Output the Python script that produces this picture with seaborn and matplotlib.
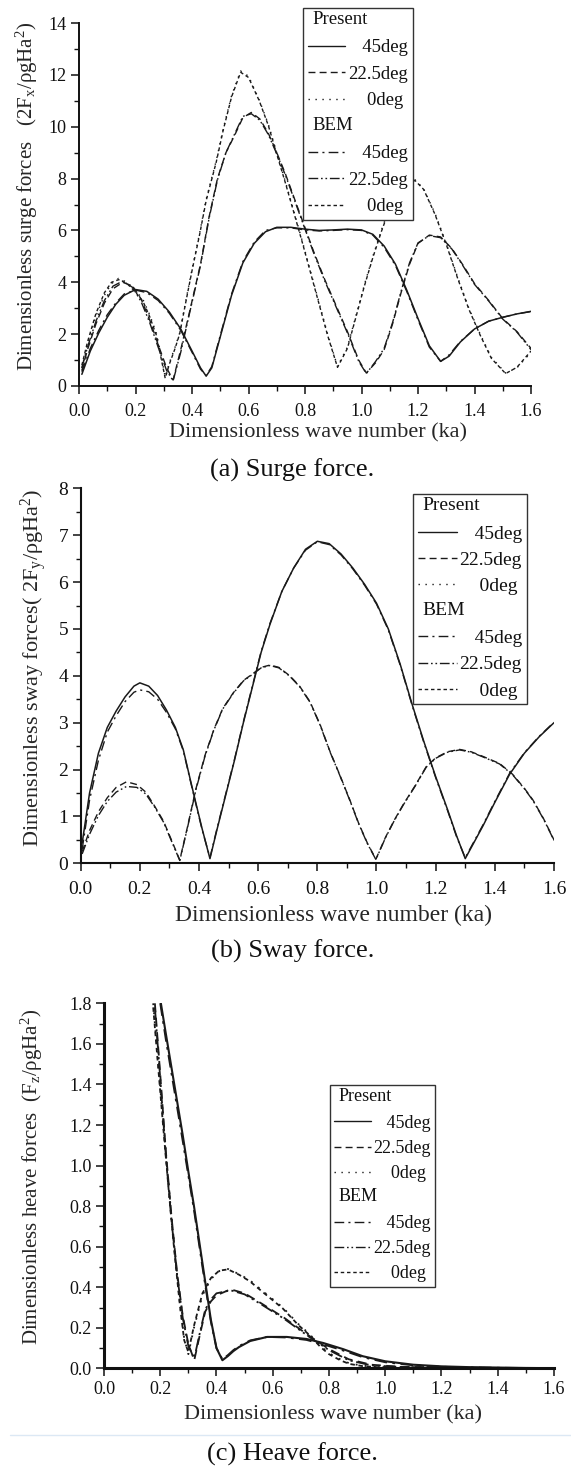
import numpy as np
import pandas as pd
import matplotlib
matplotlib.use("Agg")
import matplotlib.pyplot as plt
import matplotlib.text as mtext
from matplotlib.lines import Line2D
from matplotlib.legend_handler import HandlerBase
from matplotlib.ticker import MultipleLocator, FormatStrFormatter
import seaborn as sns

# ---------------- data: (a) surge ----------------
ka_a45 = [0.01, 0.04, 0.07, 0.10, 0.13, 0.16, 0.20, 0.24, 0.28, 0.32, 0.36, 0.40, 0.43, 0.45, 0.47,
          0.50, 0.54, 0.58, 0.62, 0.66, 0.70, 0.75, 0.80, 0.85, 0.90, 0.95, 1.00, 1.04, 1.08, 1.12,
          1.16, 1.20, 1.24, 1.28, 1.31, 1.35, 1.40, 1.45, 1.50, 1.55, 1.60]
surge_p45 = [0.45, 1.35, 2.05, 2.65, 3.15, 3.50, 3.72, 3.65, 3.35, 2.85, 2.20, 1.35, 0.70, 0.38, 0.70,
             1.90, 3.50, 4.75, 5.50, 5.95, 6.12, 6.12, 6.05, 6.00, 6.02, 6.05, 6.02, 5.85, 5.40, 4.70,
             3.70, 2.60, 1.55, 0.95, 1.15, 1.70, 2.20, 2.50, 2.65, 2.78, 2.88]
surge_b45 = [0.55, 1.45, 2.15, 2.75, 3.20, 3.55, 3.70, 3.60, 3.30, 2.80, 2.15, 1.30, 0.65, 0.40, 0.75,
             1.95, 3.55, 4.80, 5.55, 6.00, 6.10, 6.10, 6.02, 5.98, 6.00, 6.03, 6.00, 5.82, 5.35, 4.65,
             3.65, 2.55, 1.50, 0.95, 1.20, 1.72, 2.20, 2.50, 2.65, 2.78, 2.87]

ka_a22 = [0.01, 0.03, 0.06, 0.09, 0.12, 0.155, 0.19, 0.22, 0.25, 0.28, 0.31, 0.333, 0.36, 0.39, 0.43,
          0.46, 0.49, 0.52, 0.55, 0.58, 0.61, 0.64, 0.67, 0.70, 0.73, 0.76, 0.79, 0.83, 0.87, 0.91,
          0.95, 0.99, 1.017, 1.05, 1.08, 1.11, 1.14, 1.17, 1.20, 1.24, 1.28, 1.32, 1.36, 1.40, 1.45,
          1.50, 1.55, 1.60]
surge_p22 = [0.60, 1.40, 2.40, 3.20, 3.75, 4.00, 3.85, 3.35, 2.55, 1.60, 0.70, 0.23, 1.40, 2.80, 4.70,
             6.50, 8.00, 9.00, 9.65, 10.35, 10.55, 10.30, 9.75, 9.00, 8.20, 7.30, 6.40, 5.20, 4.10, 3.10,
             2.10, 1.00, 0.50, 0.90, 1.40, 2.40, 3.60, 4.70, 5.50, 5.82, 5.75, 5.30, 4.65, 3.95, 3.30,
             2.60, 2.10, 1.45]
surge_b22 = [0.70, 1.50, 2.50, 3.30, 3.85, 4.05, 3.80, 3.25, 2.45, 1.50, 0.60, 0.20, 1.30, 2.75, 4.65,
             6.45, 7.95, 9.00, 9.70, 10.40, 10.50, 10.25, 9.70, 8.95, 8.15, 7.25, 6.35, 5.15, 4.05, 3.05,
             2.05, 0.95, 0.48, 0.95, 1.45, 2.45, 3.65, 4.75, 5.52, 5.80, 5.72, 5.28, 4.62, 3.92, 3.28,
             2.58, 2.08, 1.40]

ka_a0 = [0.01, 0.03, 0.06, 0.09, 0.115, 0.14, 0.17, 0.20, 0.227, 0.25, 0.274, 0.29, 0.305, 0.32, 0.34,
         0.356, 0.38, 0.40, 0.427, 0.45, 0.486, 0.51, 0.54, 0.572, 0.60, 0.638, 0.67, 0.697, 0.73,
         0.756, 0.79, 0.82, 0.85, 0.88, 0.915, 0.95, 0.98, 1.01, 1.04, 1.07, 1.10, 1.13, 1.16, 1.19,
         1.22, 1.26, 1.30, 1.34, 1.38, 1.42, 1.46, 1.51, 1.55, 1.60]
surge_p0 = [0.70, 1.60, 2.70, 3.50, 3.95, 4.15, 4.00, 3.70, 3.32, 2.75, 2.03, 1.20, 0.35, 0.90, 1.50,
            2.03, 3.40, 4.50, 5.90, 7.20, 8.70, 9.90, 11.20, 12.15, 11.95, 11.03, 10.10, 9.10, 7.90,
            6.91, 5.60, 4.40, 3.20, 2.00, 0.75, 1.50, 2.70, 3.90, 5.00, 6.00, 6.90, 7.55, 7.90, 7.95,
            7.60, 6.66, 5.50, 4.20, 3.00, 2.00, 1.10, 0.50, 0.70, 1.30]
surge_b0 = [0.80, 1.70, 2.80, 3.60, 4.00, 4.10, 3.95, 3.62, 3.25, 2.68, 1.95, 1.10, 0.30, 0.85, 1.45,
            2.00, 3.35, 4.45, 5.85, 7.15, 8.65, 9.85, 11.15, 12.10, 11.90, 11.00, 10.05, 9.05, 7.85,
            6.86, 5.55, 4.35, 3.15, 1.95, 0.72, 1.45, 2.65, 3.85, 4.95, 5.95, 6.85, 7.50, 7.85, 7.92,
            7.58, 6.62, 5.46, 4.16, 2.96, 1.96, 1.06, 0.48, 0.72, 1.35]

# ---------------- data: (b) sway ----------------
ka_b45 = [0.005, 0.03, 0.06, 0.09, 0.12, 0.15, 0.18, 0.20, 0.23, 0.26, 0.29, 0.32, 0.347, 0.37, 0.39,
          0.41, 0.437, 0.46, 0.49, 0.52, 0.55, 0.58, 0.61, 0.64, 0.68, 0.72, 0.76, 0.80, 0.84, 0.88,
          0.92, 0.96, 1.00, 1.04, 1.08, 1.12, 1.16, 1.20, 1.24, 1.27, 1.30, 1.33, 1.36, 1.40, 1.45,
          1.50, 1.55, 1.60]
sway_p45 = [0.43, 1.50, 2.35, 2.90, 3.25, 3.55, 3.78, 3.85, 3.78, 3.58, 3.27, 2.90, 2.42, 1.80, 1.27,
            0.75, 0.10, 0.70, 1.45, 2.20, 3.00, 3.75, 4.50, 5.10, 5.80, 6.30, 6.70, 6.87, 6.82, 6.60,
            6.30, 5.95, 5.55, 5.00, 4.25, 3.40, 2.60, 1.85, 1.15, 0.60, 0.10, 0.45, 0.80, 1.30, 1.90,
            2.35, 2.70, 3.00]
sway_b45 = [0.30, 1.35, 2.20, 2.80, 3.15, 3.45, 3.65, 3.70, 3.66, 3.50, 3.22, 2.87, 2.40, 1.78, 1.25,
            0.73, 0.12, 0.72, 1.47, 2.22, 3.02, 3.77, 4.52, 5.12, 5.80, 6.30, 6.68, 6.86, 6.80, 6.58,
            6.28, 5.93, 5.53, 4.98, 4.23, 3.38, 2.58, 1.83, 1.13, 0.58, 0.12, 0.47, 0.82, 1.32, 1.92,
            2.36, 2.71, 3.01]
sway_p0 = [0.0, 0.0]
ka_b0 = [0.0, 1.6]

ka_b22 = [0.005, 0.03, 0.06, 0.09, 0.12, 0.155, 0.19, 0.22, 0.25, 0.28, 0.31, 0.335, 0.36, 0.39, 0.42,
          0.45, 0.48, 0.515, 0.55, 0.583, 0.61, 0.64, 0.67, 0.707, 0.74, 0.775, 0.81, 0.842, 0.875,
          0.91, 0.94, 0.97, 0.998, 1.03, 1.06, 1.09, 1.13, 1.168, 1.20, 1.24, 1.281, 1.32, 1.36, 1.416,
          1.46, 1.50, 1.529, 1.565, 1.60]
sway_p22 = [0.25, 0.70, 1.10, 1.40, 1.62, 1.74, 1.68, 1.52, 1.22, 0.90, 0.45, 0.07, 0.75, 1.60, 2.30,
            2.85, 3.30, 3.63, 3.90, 4.05, 4.18, 4.23, 4.18, 4.00, 3.78, 3.45, 2.95, 2.40, 1.90, 1.35,
            0.85, 0.42, 0.09, 0.55, 0.92, 1.25, 1.65, 2.06, 2.25, 2.38, 2.43, 2.38, 2.28, 2.13, 1.90,
            1.60, 1.35, 0.95, 0.50]
sway_b22 = [0.20, 0.62, 1.02, 1.32, 1.52, 1.64, 1.62, 1.48, 1.20, 0.88, 0.43, 0.06, 0.73, 1.58, 2.28,
            2.84, 3.29, 3.62, 3.89, 4.04, 4.17, 4.22, 4.17, 3.99, 3.77, 3.44, 2.94, 2.39, 1.89, 1.34,
            0.84, 0.41, 0.08, 0.54, 0.91, 1.24, 1.64, 2.05, 2.24, 2.37, 2.42, 2.37, 2.27, 2.12, 1.89,
            1.59, 1.34, 0.94, 0.49]

# ---------------- data: (c) heave ----------------
ka_c45 = [0.200, 0.22, 0.25, 0.28, 0.30, 0.32, 0.35, 0.38, 0.40, 0.421, 0.44, 0.46, 0.48, 0.52, 0.58,
          0.65, 0.72, 0.78, 0.85, 0.92, 1.00, 1.10, 1.20, 1.30, 1.40, 1.50, 1.60]
heave_p45 = [1.82, 1.65, 1.40, 1.15, 0.97, 0.80, 0.52, 0.24, 0.10, 0.04, 0.06, 0.085, 0.105, 0.135,
             0.155, 0.155, 0.145, 0.125, 0.095, 0.060, 0.035, 0.018, 0.010, 0.006, 0.004, 0.002, 0.001]
heave_b45 = [1.80, 1.62, 1.37, 1.12, 0.95, 0.78, 0.50, 0.23, 0.10, 0.045, 0.065, 0.09, 0.11, 0.138,
             0.155, 0.152, 0.140, 0.118, 0.088, 0.055, 0.030, 0.015, 0.008, 0.005, 0.003, 0.002, 0.001]

ka_c22 = [0.181, 0.20, 0.22, 0.24, 0.26, 0.28, 0.30, 0.321, 0.34, 0.36, 0.38, 0.40, 0.45, 0.50, 0.56,
          0.64, 0.73, 0.80, 0.87, 0.95, 1.05, 1.20, 1.40, 1.60]
heave_p22 = [1.80, 1.45, 1.07, 0.75, 0.47, 0.26, 0.12, 0.04, 0.16, 0.28, 0.33, 0.36, 0.39, 0.37, 0.32,
             0.25, 0.16, 0.095, 0.045, 0.018, 0.008, 0.004, 0.002, 0.001]
heave_b22 = [1.78, 1.43, 1.05, 0.73, 0.46, 0.25, 0.11, 0.05, 0.17, 0.29, 0.34, 0.37, 0.385, 0.365,
             0.315, 0.245, 0.155, 0.09, 0.04, 0.015, 0.007, 0.004, 0.002, 0.001]

ka_c0 = [0.175, 0.19, 0.21, 0.23, 0.25, 0.27, 0.285, 0.30, 0.32, 0.35, 0.38, 0.41, 0.441, 0.48, 0.518,
         0.57, 0.636, 0.69, 0.73, 0.77, 0.80, 0.84, 0.872, 0.92, 0.98, 1.05, 1.20, 1.40, 1.60]
heave_p0 = [1.80, 1.55, 1.22, 0.90, 0.60, 0.32, 0.15, 0.07, 0.20, 0.36, 0.44, 0.48, 0.49, 0.465, 0.435,
            0.375, 0.30, 0.22, 0.17, 0.11, 0.075, 0.045, 0.025, 0.013, 0.006, 0.004, 0.002, 0.001, 0.0]
heave_b0 = [1.78, 1.53, 1.20, 0.88, 0.58, 0.31, 0.14, 0.08, 0.21, 0.37, 0.445, 0.482, 0.488, 0.462,
            0.43, 0.37, 0.295, 0.215, 0.165, 0.105, 0.07, 0.04, 0.022, 0.011, 0.005, 0.003, 0.002,
            0.001, 0.0]

legend_labels = ["   45deg", "22.5deg", "    0deg"]

# ---------------- style ----------------
sns.set_theme(style="ticks")
plt.rcParams["font.family"] = ["Liberation Serif", "DejaVu Serif"]
plt.rcParams["mathtext.fontset"] = "custom"
plt.rcParams["mathtext.rm"] = "Liberation Serif"
plt.rcParams["mathtext.it"] = "Liberation Serif:italic"
plt.rcParams["axes.unicode_minus"] = False

LC = "#1a1a1a"
STY = {
    "p45": "-",
    "p22": (0, (5, 3)),
    "p0": (0, (1, 4)),
    "b45": (0, (7, 3, 1.5, 3)),
    "b22": (0, (7, 2, 1.2, 2, 1.2, 2)),
    "b0": (0, (2.5, 2)),
}


class Header:
    def __init__(self, text):
        self.text = text


class HeaderHandler(HandlerBase):
    def create_artists(self, legend, orig_handle, xdescent, ydescent, width, height, fontsize, trans):
        t = mtext.Text(-xdescent + 0.25 * fontsize, -ydescent + height / 2, orig_handle.text,
                       fontsize=fontsize, va="center", ha="left", transform=trans,
                       family=["Liberation Serif"], color="#111111")
        return [t]


def draw(ax, x, y, key, lw=1.0):
    df = pd.DataFrame({"ka": x, "F": y})
    n0 = len(ax.lines)
    sns.lineplot(data=df, x="ka", y="F", ax=ax, color=LC, lw=lw, estimator=None, sort=False,
                 legend=False)
    ln = ax.lines[n0]
    ln.set_linestyle(STY[key])
    return ln


def add_legend(ax, anchor, fs, spacing):
    handles = [Header("Present")]
    for k in ["p45", "p22", "p0"]:
        handles.append(Line2D([], [], color=LC, lw=1.0, linestyle=STY[k]))
    handles.append(Header("BEM"))
    for k in ["b45", "b22", "b0"]:
        handles.append(Line2D([], [], color=LC, lw=1.0, linestyle=STY[k]))
    labels = [""] + legend_labels + [""] + legend_labels
    leg = ax.legend(handles, labels, loc="upper left", bbox_to_anchor=anchor, frameon=True,
                    fancybox=False, framealpha=1, edgecolor="#333333", fontsize=fs,
                    handlelength=2.0, handletextpad=0.15, labelspacing=spacing, borderpad=0.25,
                    borderaxespad=0, handler_map={Header: HeaderHandler()})
    leg.get_frame().set_linewidth(1.0)
    for t in leg.get_texts():
        t.set_color("#111111")
    return leg


def style_axis(ax, xmaj, xmin, ymaj, ymin, ylim, yfmt, tick_fs, spw, xpad):
    ax.set_xlim(0, 1.6)
    ax.set_ylim(*ylim)
    ax.xaxis.set_major_locator(MultipleLocator(xmaj))
    ax.xaxis.set_minor_locator(MultipleLocator(xmin))
    ax.yaxis.set_major_locator(MultipleLocator(ymaj))
    ax.yaxis.set_minor_locator(MultipleLocator(ymin))
    ax.xaxis.set_major_formatter(FormatStrFormatter("%.1f"))
    ax.yaxis.set_major_formatter(FormatStrFormatter(yfmt))
    sns.despine(ax=ax)
    for s in ["left", "bottom"]:
        ax.spines[s].set_linewidth(spw)
        ax.spines[s].set_color("#111111")
    ax.tick_params(which="major", direction="out", length=6, width=1.1, labelsize=tick_fs,
                   colors="#111111", pad=3)
    ax.tick_params(axis="x", which="major", pad=xpad)
    ax.tick_params(which="minor", direction="out", length=3.5, width=1.0, colors="#111111")
    ax.set_facecolor("white")
    ax.grid(False)


fig = plt.figure(figsize=(5.71, 14.66), dpi=100)
fig.patch.set_facecolor("white")

# ---------- (a) ----------
axA = fig.add_axes([0.1384, 0.7367, 0.7916, 0.2476])
draw(axA, ka_a45, surge_b45, "b45")
draw(axA, ka_a22, surge_b22, "b22")
draw(axA, ka_a0, surge_b0, "b0")
draw(axA, ka_a45, surge_p45, "p45", lw=1.1)
draw(axA, ka_a22, surge_p22, "p22")
draw(axA, ka_a0, surge_p0, "p0")
style_axis(axA, 0.2, 0.1, 2, 1, (0, 14), "%d", 13, 1.4, 6)
axA.set_xlabel("Dimensionless wave number (ka)", fontsize=16)
axA.xaxis.set_label_coords(0.528, -0.13)
axA.xaxis.label.set_va("center")
axA.set_ylabel(r"Dimensionless surge forces   (2F$_\mathrm{x}$/ρgHa$^\mathrm{2}$)", fontsize=15)
axA.yaxis.set_label_coords(-0.115, 0.523)
axA.yaxis.label.set_va("center")
add_legend(axA, (0.496, 1.041), 13.5, 0.5)
fig.text(0.512, 1 - 470 / 1466, "(a) Surge force.", ha="center", va="center", fontsize=19,
         color="#111111")

# ---------- (b) ----------
axB = fig.add_axes([0.1413, 0.4111, 0.8289, 0.2558])
draw(axB, ka_b45, sway_b45, "b45")
draw(axB, ka_b22, sway_b22, "b22")
draw(axB, ka_b0, sway_p0, "b0")
draw(axB, ka_b45, sway_p45, "p45", lw=1.1)
draw(axB, ka_b22, sway_p22, "p22")
draw(axB, ka_b0, sway_p0, "p0")
style_axis(axB, 0.2, 0.1, 1, 0.5, (0, 8), "%d", 14, 1.5, 7)
axB.set_xlabel("Dimensionless wave number (ka)", fontsize=17)
axB.xaxis.set_label_coords(0.535, -0.138)
axB.xaxis.label.set_va("center")
axB.set_ylabel(r"Dimensionless sway forces( 2F$_\mathrm{y}$/ρgHa$^\mathrm{2}$)", fontsize=16)
axB.yaxis.set_label_coords(-0.10, 0.521)
axB.yaxis.label.set_va("center")
add_legend(axB, (0.702, 0.985), 14, 0.44)
fig.text(0.512, 1 - 951 / 1466, "(b) Sway force.", ha="center", va="center", fontsize=19,
         color="#111111")

# ---------- (c) ----------
axC = fig.add_axes([0.1821, 0.0666, 0.7881, 0.2490])
draw(axC, ka_c45, heave_b45, "b45", lw=1.3)
draw(axC, ka_c22, heave_b22, "b22", lw=1.3)
draw(axC, ka_c0, heave_b0, "b0", lw=1.3)
draw(axC, ka_c45, heave_p45, "p45", lw=1.5)
draw(axC, ka_c22, heave_p22, "p22", lw=1.3)
draw(axC, ka_c0, heave_p0, "p0", lw=1.3)
style_axis(axC, 0.2, 0.1, 0.2, 0.1, (0, 1.8), "%.1f", 13, 2.2, 3)
axC.set_xlabel("Dimensionless wave number (ka)", fontsize=16)
axC.xaxis.set_label_coords(0.508, -0.128)
axC.xaxis.label.set_va("center")
axC.set_ylabel(r"Dimensionless heave forces  (F$_\mathrm{z}$/ρgHa$^\mathrm{2}$)", fontsize=15)
axC.yaxis.set_label_coords(-0.16, 0.524)
axC.yaxis.label.set_va("center")
add_legend(axC, (0.502, 0.776), 13, 0.45)
fig.add_artist(Line2D([10 / 571, 1.0], [1 - 1435 / 1466] * 2, transform=fig.transFigure,
                      color="#dce8f4", lw=1.0))
fig.text(0.512, 1 - 1454 / 1466, "(c) Heave force.", ha="center", va="center", fontsize=19,
         color="#111111")

fig.savefig("out.png", dpi=100, facecolor="white")
